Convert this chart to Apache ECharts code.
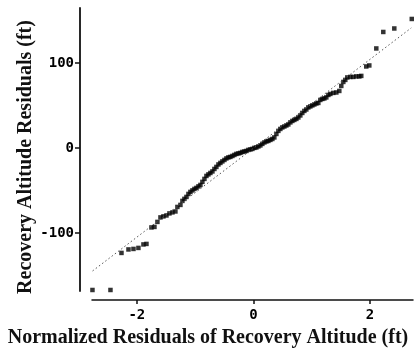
<!DOCTYPE html>
<html><head><meta charset="utf-8">
<script src="https://cdn.jsdelivr.net/npm/echarts@6/dist/echarts.min.js"></script>
<style>html,body{margin:0;padding:0;background:#fff}#c{width:420px;height:355px}</style>
</head><body><div id="c"></div>
<script>
const xTicks = [-2, 0, 2];
const yTicks = [-100, 0, 100];
const xTitle = 'Normalized Residuals of Recovery Altitude (ft)';
const yTitle = 'Recovery Altitude Residuals (ft)';
const normalScores = [
-2.762,-2.453,-2.264,-2.144,-2.058,-1.973,-1.887,-1.835,-1.750,-1.698,
-1.647,-1.595,-1.544,-1.492,-1.441,-1.389,-1.338,-1.304,-1.252,-1.218,
-1.184,-1.149,-1.115,-1.081,-1.046,-1.012,-0.978,-0.943,-0.909,-0.875,
-0.840,-0.806,-0.772,-0.738,-0.703,-0.669,-0.635,-0.600,-0.566,-0.532,
-0.497,-0.463,-0.429,-0.395,-0.360,-0.326,-0.292,-0.257,-0.223,-0.189,
-0.154,-0.120,-0.086,-0.051,-0.017,0.017,0.051,0.086,0.120,0.154,
0.189,0.223,0.257,0.292,0.326,0.360,0.395,0.429,0.463,0.497,
0.532,0.566,0.600,0.635,0.669,0.703,0.738,0.772,0.806,0.840,
0.875,0.909,0.943,0.978,1.012,1.046,1.081,1.115,1.149,1.184,
1.218,1.252,1.287,1.321,1.372,1.424,1.475,1.509,1.544,1.578,
1.612,1.664,1.715,1.767,1.818,1.852,1.938,1.990,2.110,2.230,
2.419,2.719];
const residuals = [
-166.8,-166.8,-123.2,-119.1,-118.5,-117.3,-113.2,-112.6,-93.2,-92.6,
-86.7,-81.4,-80.2,-79.1,-76.7,-75.5,-74.4,-69.1,-66.7,-62.0,
-59.6,-57.3,-53.8,-51.4,-49.6,-47.9,-46.7,-44.9,-43.2,-39.6,
-36.1,-32.6,-30.8,-29.1,-27.3,-24.4,-22.0,-19.1,-17.3,-15.5,
-13.8,-12.0,-10.8,-10.2,-9.1,-7.9,-6.7,-6.1,-5.5,-4.4,
-3.8,-3.2,-2.0,-1.4,-0.8,0.4,0.9,2.1,3.3,5.1,
6.8,8.0,8.6,9.8,10.9,12.7,16.8,20.4,22.7,24.5,
25.6,26.8,28.0,30.4,32.1,33.3,34.5,36.2,38.6,41.5,
43.9,45.6,48.0,49.2,50.4,51.5,52.7,53.3,56.8,58.0,
58.6,59.8,62.7,63.9,65.1,65.6,67.4,73.3,78.0,80.4,
83.3,83.9,83.9,84.5,84.5,85.1,96.2,97.4,117.4,136.8,
140.9,152.1];
const refLineX = [-2.76, 2.71];
const refLineY = [-144.4, 141.6];

const chart = echarts.init(document.getElementById('c'), null, {renderer: 'canvas'});
const labelFont = {color: '#000', fontFamily: 'DejaVu Sans Mono', fontWeight: 'bold', fontSize: 14};
chart.setOption({
  animation: false,
  backgroundColor: '#fff',
  grid: {left: 92, right: 7, top: 8, bottom: 64},
  xAxis: {
    type: 'value', min: -2.77, max: 2.74, offset: 9,
    axisLine: {show: true, onZero: false, lineStyle: {color: '#111', width: 1.5}},
    axisTick: {show: true, customValues: xTicks, length: 4, lineStyle: {color: '#111', width: 1.5}},
    axisLabel: Object.assign({customValues: xTicks, margin: 8}, labelFont),
    splitLine: {show: false}
  },
  yAxis: {
    type: 'value', min: -168, max: 165, offset: 12,
    axisLine: {show: true, onZero: false, lineStyle: {color: '#111', width: 1.8}},
    axisTick: {show: true, customValues: yTicks, length: 5, lineStyle: {color: '#111', width: 1.5}},
    axisLabel: Object.assign({customValues: yTicks, margin: 6}, labelFont),
    splitLine: {show: false}
  },
  graphic: [
    {type: 'text', x: 208, y: 338, style: {text: xTitle, font: 'bold 20px "Liberation Serif"', fill: '#111', textAlign: 'center', textVerticalAlign: 'middle'}},
    {type: 'text', x: 26, y: 157, rotation: Math.PI / 2, style: {text: yTitle, font: 'bold 20px "Liberation Serif"', fill: '#111', textAlign: 'center', textVerticalAlign: 'middle'}}
  ],
  series: [
    {type: 'line', data: refLineX.map((x, i) => [x, refLineY[i]]), symbol: 'none', silent: true,
     lineStyle: {color: '#555', width: 1, type: [1.5, 2.5]}},
    {type: 'scatter', data: normalScores.map((x, i) => [x, residuals[i]]), symbol: 'rect', symbolSize: 4.5, clip: false,
     itemStyle: {color: '#000'}}
  ]
});
</script>
</body></html>
